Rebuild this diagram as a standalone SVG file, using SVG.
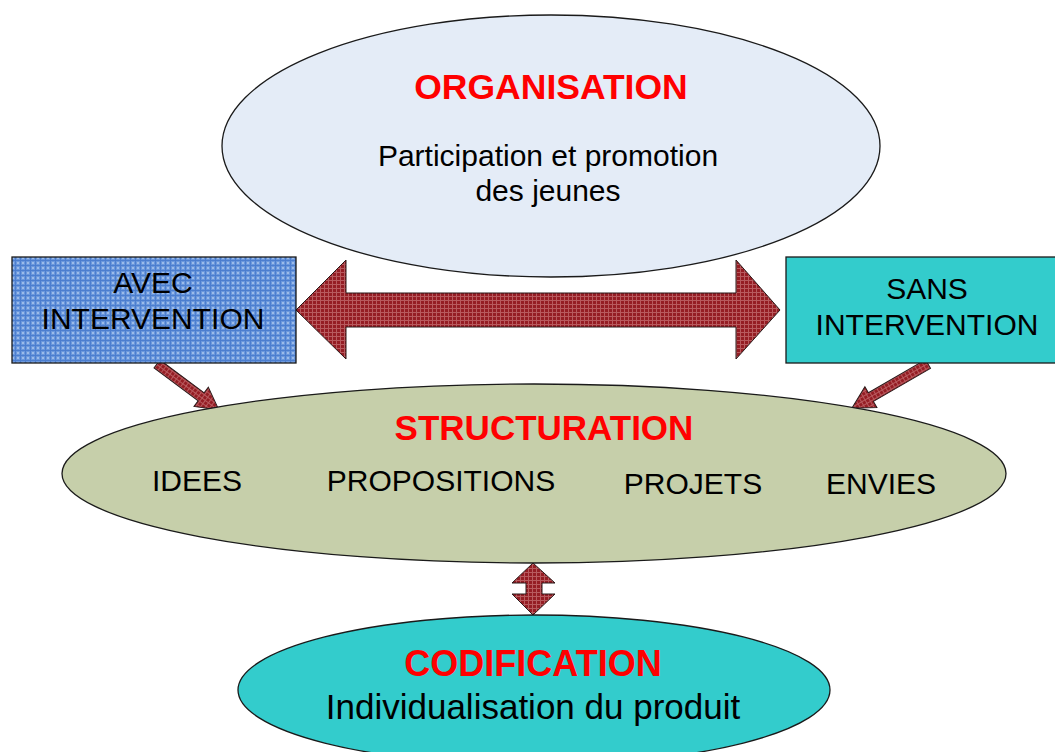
<svg xmlns="http://www.w3.org/2000/svg" width="1055" height="752" viewBox="0 0 1055 752">
<defs>
<pattern id="redpat" width="4" height="4" patternUnits="userSpaceOnUse">
<rect width="4" height="4" fill="#951D24"/>
<rect x="0" y="0" width="4" height="1" fill="#B85A5E"/>
<rect x="0" y="0" width="1" height="4" fill="#B85A5E"/>
</pattern>
<pattern id="bluepat" width="5" height="5" patternUnits="userSpaceOnUse">
<rect width="5" height="5" fill="#6B98DC"/>
<rect x="0" y="0" width="5" height="1" fill="#4C7ECF"/>
<rect x="0" y="0" width="1" height="5" fill="#4C7ECF"/>
<rect x="2" y="2" width="2" height="2" fill="#9CBBE9"/>
</pattern>
<style>
.shape{stroke:#1a1a1a;stroke-width:1.3}
.arrow{fill:url(#redpat);stroke:#2a1a1a;stroke-width:1}
.t{font-family:"Liberation Sans",Arial,sans-serif;text-anchor:middle;fill:#000}
.lbl{font-size:30px}
.title{font-weight:bold;fill:#FF0000;font-size:35px}
</style>
</defs>

<g id="organisation">
<ellipse class="shape" cx="551" cy="146" rx="329" ry="131" fill="#E4ECF7"/>
<text class="t title" x="551" y="99" style="font-size:35.5px">ORGANISATION</text>
<text class="t" x="548" y="166" font-size="30">Participation et promotion</text>
<text class="t" x="548" y="201" font-size="30">des jeunes</text>
</g>

<g id="connectors">
<polygon class="arrow" points="296,310 346,260 346,293 736,293 736,260 780,310 736,359 736,327 346,327 346,359"/>
<polygon class="arrow" transform="translate(157,364) rotate(36.6)" points="0,-5 55,-5 55,-12 77,0 55,12 55,5 0,5"/>
<polygon class="arrow" transform="translate(928,364) rotate(149.9)" points="0,-5 66,-5 66,-12 88,0 66,12 66,5 0,5"/>
<polygon class="arrow" points="533,563 555,583 542,583 542,594 555,594 533,615 512,594 526,594 526,583 512,583"/>
</g>

<g id="avec">
<rect class="shape" x="12" y="257" width="284" height="106" fill="url(#bluepat)"/>
<text class="t lbl" x="153" y="293">AVEC</text>
<text class="t lbl" x="153" y="329">INTERVENTION</text>
</g>

<g id="sans">
<rect class="shape" x="786" y="257" width="275" height="106" fill="#33CCCC"/>
<text class="t lbl" x="927" y="299">SANS</text>
<text class="t lbl" x="927" y="335">INTERVENTION</text>
</g>

<g id="structuration">
<ellipse class="shape" cx="534" cy="473.5" rx="472" ry="89.5" fill="#C6CFAA"/>
<text class="t title" x="544" y="440">STRUCTURATION</text>
<text class="t lbl" x="197" y="491">IDEES</text>
<text class="t lbl" x="441" y="491">PROPOSITIONS</text>
<text class="t lbl" x="693" y="494">PROJETS</text>
<text class="t lbl" x="881" y="494">ENVIES</text>
</g>

<g id="codification">
<ellipse class="shape" cx="534" cy="690" rx="296" ry="75" fill="#33CCCC"/>
<text class="t title" x="533" y="676" style="font-size:36px">CODIFICATION</text>
<text class="t" x="533" y="719" font-size="35">Individualisation du produit</text>
</g>
</svg>
